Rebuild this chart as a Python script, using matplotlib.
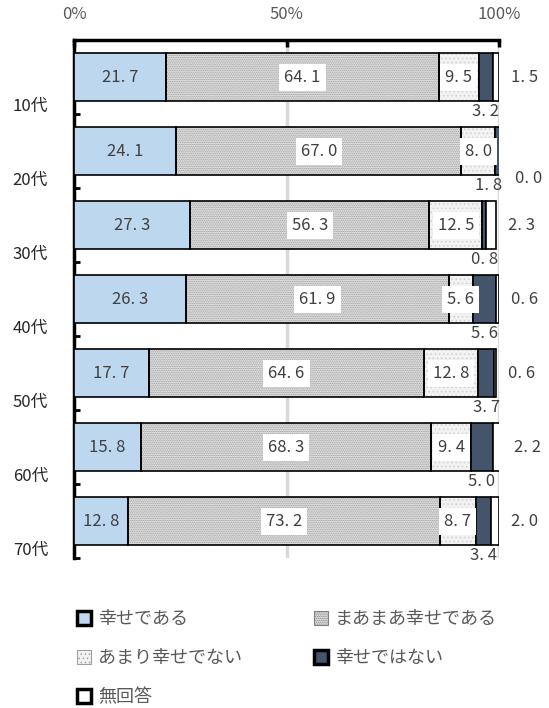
import numpy as np
import matplotlib
matplotlib.use("Agg")
import matplotlib.pyplot as plt
from matplotlib.patches import Patch

plt.rcParams['font.family'] = ['Noto Sans CJK JP', 'DejaVu Sans']
plt.rcParams['hatch.linewidth'] = 0.6

categories = ["10代", "20代", "30代", "40代", "50代", "60代", "70代"]
series_names = ["幸せである", "まあまあ幸せである", "あまり幸せでない", "幸せではない", "無回答"]
happy = [21.7, 24.1, 27.3, 26.3, 17.7, 15.8, 12.8]
fairly = [64.1, 67.0, 56.3, 61.9, 64.6, 68.3, 73.2]
not_very = [9.5, 8.0, 12.5, 5.6, 12.8, 9.4, 8.7]
unhappy = [3.2, 1.8, 0.8, 5.6, 3.7, 5.0, 3.4]
no_answer = [1.5, 0.0, 2.3, 0.6, 0.6, 2.2, 2.0]
xticks = [0, 50, 100]
xticklabels = ["0%", "50%", "100%"]

series = [happy, fairly, not_very, unhappy, no_answer]
faces = ['#BDD7EE', '#E0E0E0', '#F2F2F2', '#44546A', '#FFFFFF']
hatches = [None, '.........', '....', None, None]
hatch_cols = [None, '#9A9A9A', '#D0D0D0', None, None]
txt_col = '#404040'

fig = plt.figure(figsize=(5.49, 7.08), dpi=100)
W, H = 549, 708
ax = fig.add_axes([74 / W, 1 - 558 / H, (499 - 74) / W, (558 - 40) / H])
ax.set_xlim(0, 100)
ax.set_ylim(6.5, -0.5)

y = np.arange(len(categories))
bh = 0.65
left = np.zeros(len(categories))
for k, vals in enumerate(series):
    vals = np.array(vals)
    if hatches[k]:
        ax.barh(y, vals, left=left, height=bh, color=faces[k], hatch=hatches[k],
                edgecolor=hatch_cols[k], linewidth=0, zorder=2)
        ax.barh(y, vals, left=left, height=bh, facecolor='none',
                edgecolor='black', linewidth=1.2, zorder=3)
    else:
        ax.barh(y, vals, left=left, height=bh, color=faces[k],
                edgecolor='black', linewidth=1.2, zorder=3)
    left = left + vals

totals = left
fs = 12
for i in range(len(categories)):
    c = 0.0
    for k, vals in enumerate(series):
        v = vals[i]
        centre = c + v / 2
        lab = f"{v:.1f}".replace('.', '. ')
        if k == 0:
            ax.text(centre, i, lab, ha='center', va='center', fontsize=fs, color=txt_col, zorder=5)
        elif k in (1, 2):
            ax.text(centre, i, lab, ha='center', va='center', fontsize=fs, color=txt_col, zorder=5,
                    bbox=dict(boxstyle='square,pad=0.3', fc='white', ec='none'))
        elif k == 3:
            ax.text(min(centre, 97.5), i + 0.47, lab, ha='center', va='center', fontsize=fs,
                    color=txt_col, zorder=5, clip_on=False)
        else:
            yy = i + 0.37 if v == 0 else i
            ax.text(totals[i] + 6, yy, lab, ha='center', va='center', fontsize=fs,
                    color=txt_col, zorder=5, clip_on=False)
        c += v

# grid lines
for gx in (50, 100):
    ax.axvline(gx, color='#D9D9D9', lw=2.5, zorder=0)

# axes styling
for s in ('right', 'bottom'):
    ax.spines[s].set_visible(False)
ax.spines['top'].set_linewidth(2.5)
ax.spines['left'].set_linewidth(2.5)
ax.xaxis.tick_top()
ax.set_xticks(xticks)
ax.set_xticklabels(xticklabels, fontsize=fs, color='#595959')
ax.tick_params(axis='x', direction='in', length=5, width=2.5, pad=12)
ax.set_yticks(y + 0.5)
ax.set_yticklabels([])
ax.tick_params(axis='y', direction='in', length=4, width=2)

for i, cat in enumerate(categories):
    ax.annotate(cat, xy=(0, i + 0.4), xycoords=('axes fraction', 'data'),
                xytext=(-26, 0), textcoords='offset pixels', ha='right', va='center',
                fontsize=fs, color='#262626', annotation_clip=False)

# legend (row-major order in two columns)
edge_w = [2.5, 0.8, 0.8, 2.5, 2.5]
edge_c = ['black', '#808080', '#A0A0A0', 'black', 'black']
handles = []
for k, name in enumerate(series_names):
    if hatches[k]:
        handles.append(Patch(facecolor=faces[k], hatch=hatches[k], edgecolor=edge_c[k],
                             linewidth=edge_w[k], label=name))
    else:
        handles.append(Patch(facecolor=faces[k], edgecolor=edge_c[k], linewidth=edge_w[k], label=name))
order = [0, 2, 4, 1, 3]
handles = [handles[j] for j in order]
leg = fig.legend(handles=handles, loc='upper left', bbox_to_anchor=(77 / W, 1 - 610 / H),
                 ncol=2, frameon=False, fontsize=13, handlelength=0.8, handleheight=0.8,
                 handletextpad=0.35, columnspacing=4.0, labelspacing=1.17,
                 borderpad=0, borderaxespad=0)
for t in leg.get_texts():
    t.set_color('#595959')

fig.savefig('out.png', dpi=100)
